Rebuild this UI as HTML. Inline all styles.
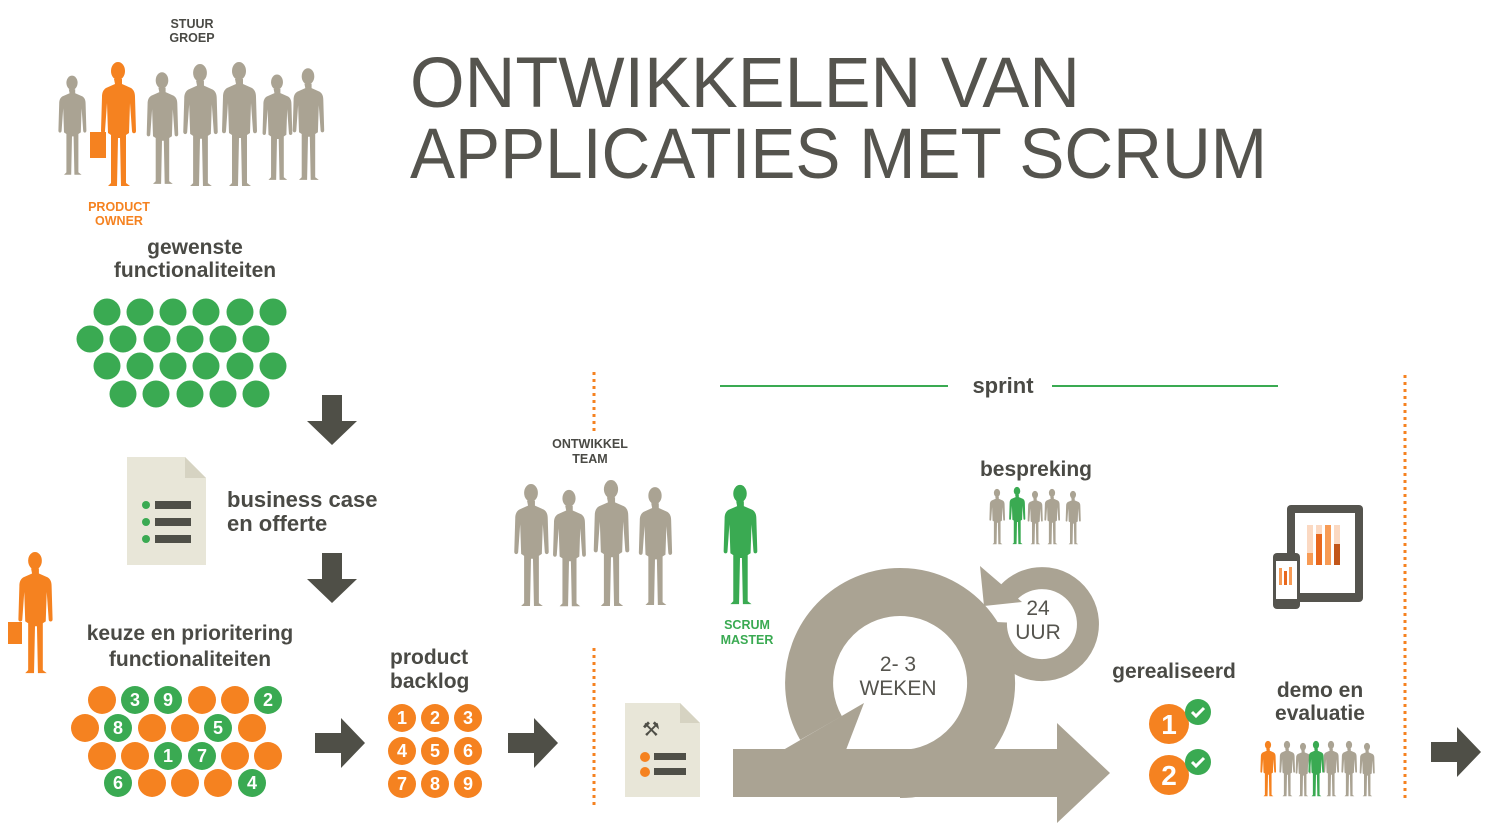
<!DOCTYPE html>
<html><head><meta charset="utf-8"><style>
html,body{margin:0;padding:0;background:#fff;}
svg{display:block;font-family:"Liberation Sans",sans-serif;}
.h{font-weight:bold;fill:#4a4a45;}
</style></head><body>
<svg width="1493" height="835" viewBox="0 0 1493 835" xmlns="http://www.w3.org/2000/svg">
<defs>
<symbol id="p" viewBox="0 0 40 130">
<ellipse cx="20" cy="11" rx="7" ry="9"/>
<path d="M16 19h8v5l9 4c3 2 4 5 4 9l1 34c0 3-4 3-4 0l-2-28-1 30-3 2 0 48 4 3h-9l-1-48h-2l-1 48h-9l3-3 0-48-3-2-1-30-2 28c0 3-4 3-4 0l1-34c0-4 1-7 4-9l9-4z"/>
</symbol>
<symbol id="a" viewBox="0 0 50 50"><path d="M15 0h20v26h15L25 50 0 26h15z"/></symbol>
<symbol id="r" viewBox="0 0 50 50"><path d="M0 15h26V0l24 25-24 25V35H0z"/></symbol>
</defs>

<text x="410" y="107" font-size="71" fill="#55544e" textLength="670" lengthAdjust="spacingAndGlyphs">ONTWIKKELEN VAN</text>
<text x="410" y="178" font-size="71" fill="#55544e" textLength="857" lengthAdjust="spacingAndGlyphs">APPLICATIES MET SCRUM</text>

<text class="h" x="192" y="28" font-size="12.5" text-anchor="middle">STUUR</text>
<text class="h" x="192" y="42" font-size="12.5" text-anchor="middle">GROEP</text>
<g fill="#aaa393">
<use href="#p" x="56" y="62" width="32" height="128"/>
<use href="#p" x="144" y="68" width="36" height="122"/>
<use href="#p" x="180" y="62" width="40" height="128"/>
<use href="#p" x="218" y="60" width="42" height="130"/>
<use href="#p" x="260" y="66" width="34" height="124"/>
<use href="#p" x="290" y="60" width="36" height="130"/>
</g>
<use href="#p" x="94" y="60" width="48" height="130" fill="#f58220"/>
<rect x="90" y="132" width="16" height="26" fill="#f58220"/>
<text x="119" y="211" font-size="12.5" font-weight="bold" fill="#f58220" text-anchor="middle">PRODUCT</text>
<text x="119" y="225" font-size="12.5" font-weight="bold" fill="#f58220" text-anchor="middle">OWNER</text>

<text class="h" x="195" y="254" font-size="21" text-anchor="middle">gewenste</text>
<text class="h" x="195" y="277" font-size="21" text-anchor="middle">functionaliteiten</text>

<g fill="#3aaa52">
<circle cx="107" cy="312" r="13.5"/><circle cx="140" cy="312" r="13.5"/><circle cx="173" cy="312" r="13.5"/><circle cx="206" cy="312" r="13.5"/><circle cx="240" cy="312" r="13.5"/><circle cx="273" cy="312" r="13.5"/>
<circle cx="90" cy="339" r="13.5"/><circle cx="123" cy="339" r="13.5"/><circle cx="157" cy="339" r="13.5"/><circle cx="190" cy="339" r="13.5"/><circle cx="223" cy="339" r="13.5"/><circle cx="256" cy="339" r="13.5"/>
<circle cx="107" cy="366" r="13.5"/><circle cx="140" cy="366" r="13.5"/><circle cx="173" cy="366" r="13.5"/><circle cx="206" cy="366" r="13.5"/><circle cx="240" cy="366" r="13.5"/><circle cx="273" cy="366" r="13.5"/>
<circle cx="123" cy="394" r="13.5"/><circle cx="156" cy="394" r="13.5"/><circle cx="190" cy="394" r="13.5"/><circle cx="223" cy="394" r="13.5"/><circle cx="256" cy="394" r="13.5"/>
</g>

<g fill="#4f4f47">
<use href="#a" x="307" y="395" width="50" height="50"/>
<use href="#a" x="307" y="553" width="50" height="50"/>
<use href="#r" x="315" y="718" width="50" height="50"/>
<use href="#r" x="508" y="718" width="50" height="50"/>
<use href="#r" x="1431" y="727" width="50" height="50"/>
</g>

<path d="M127 457h58l21 21v87h-79z" fill="#e8e6d8"/>
<path d="M185 457v21h21z" fill="#d6d3c2"/>
<g fill="#3aaa52"><circle cx="146" cy="505" r="4"/><circle cx="146" cy="522" r="4"/><circle cx="146" cy="539" r="4"/></g>
<g fill="#4f4f47"><rect x="155" y="501" width="36" height="8"/><rect x="155" y="518" width="36" height="8"/><rect x="155" y="535" width="36" height="8"/></g>
<text class="h" x="227" y="507" font-size="22">business case</text>
<text class="h" x="227" y="531" font-size="22">en offerte</text>

<use href="#p" x="12" y="550" width="46" height="127" fill="#f58220"/>
<rect x="8" y="622" width="14" height="22" fill="#f58220"/>
<text class="h" x="190" y="640" font-size="21" text-anchor="middle">keuze en prioritering</text>
<text class="h" x="190" y="666" font-size="21" text-anchor="middle">functionaliteiten</text>

<g font-size="18" font-weight="bold" fill="#fff" text-anchor="middle">
<g fill="#f58220">
<circle cx="102" cy="700" r="14"/><circle cx="202" cy="700" r="14"/><circle cx="235" cy="700" r="14"/>
<circle cx="85" cy="728" r="14"/><circle cx="152" cy="728" r="14"/><circle cx="185" cy="728" r="14"/><circle cx="252" cy="728" r="14"/>
<circle cx="102" cy="756" r="14"/><circle cx="135" cy="756" r="14"/><circle cx="235" cy="756" r="14"/><circle cx="268" cy="756" r="14"/>
<circle cx="152" cy="783" r="14"/><circle cx="185" cy="783" r="14"/><circle cx="218" cy="783" r="14"/>
</g>
<g fill="#3aaa52">
<circle cx="135" cy="700" r="14"/><circle cx="168" cy="700" r="14"/><circle cx="268" cy="700" r="14"/>
<circle cx="118" cy="728" r="14"/><circle cx="218" cy="728" r="14"/>
<circle cx="168" cy="756" r="14"/><circle cx="202" cy="756" r="14"/>
<circle cx="118" cy="783" r="14"/><circle cx="252" cy="783" r="14"/>
</g>
<text x="135" y="706">3</text><text x="168" y="706">9</text><text x="268" y="706">2</text>
<text x="118" y="734">8</text><text x="218" y="734">5</text>
<text x="168" y="762">1</text><text x="202" y="762">7</text>
<text x="118" y="789">6</text><text x="252" y="789">4</text>
</g>

<text class="h" x="390" y="664" font-size="21">product</text>
<text class="h" x="390" y="688" font-size="21">backlog</text>
<g fill="#f58220">
<circle cx="402" cy="718" r="14"/><circle cx="435" cy="718" r="14"/><circle cx="468" cy="718" r="14"/>
<circle cx="402" cy="751" r="14"/><circle cx="435" cy="751" r="14"/><circle cx="468" cy="751" r="14"/>
<circle cx="402" cy="784" r="14"/><circle cx="435" cy="784" r="14"/><circle cx="468" cy="784" r="14"/>
</g>
<g font-size="18" font-weight="bold" fill="#fff" text-anchor="middle">
<text x="402" y="724">1</text><text x="435" y="724">2</text><text x="468" y="724">3</text>
<text x="402" y="757">4</text><text x="435" y="757">5</text><text x="468" y="757">6</text>
<text x="402" y="790">7</text><text x="435" y="790">8</text><text x="468" y="790">9</text>
</g>

<g stroke="#f58220" stroke-width="3" stroke-dasharray="3 4">
<line x1="594" y1="372" x2="594" y2="432"/>
<line x1="594" y1="648" x2="594" y2="805"/>
<line x1="1405" y1="375" x2="1405" y2="802"/>
</g>
<g stroke="#3aaa52" stroke-width="2"><line x1="720" y1="386" x2="948" y2="386"/><line x1="1052" y1="386" x2="1278" y2="386"/></g>
<text class="h" x="1003" y="393" font-size="22" text-anchor="middle">sprint</text>

<text class="h" x="590" y="448" font-size="12.5" text-anchor="middle">ONTWIKKEL</text>
<text class="h" x="590" y="463" font-size="12.5" text-anchor="middle">TEAM</text>
<g fill="#aaa393">
<use href="#p" x="510" y="482" width="42" height="128"/>
<use href="#p" x="550" y="488" width="38" height="122"/>
<use href="#p" x="588" y="478" width="46" height="132"/>
<use href="#p" x="636" y="484" width="38" height="126"/>
</g>
<use href="#p" x="716" y="483" width="48" height="125" fill="#3aaa52"/>
<text x="747" y="629" font-size="12.5" font-weight="bold" fill="#3aaa52" text-anchor="middle">SCRUM</text>
<text x="747" y="644" font-size="12.5" font-weight="bold" fill="#3aaa52" text-anchor="middle">MASTER</text>

<text class="h" x="1036" y="476" font-size="21" text-anchor="middle">bespreking</text>
<g fill="#aaa393">
<use href="#p" x="988" y="488" width="18" height="58"/>
<use href="#p" x="1026" y="490" width="18" height="56"/>
<use href="#p" x="1042" y="488" width="20" height="58"/>
<use href="#p" x="1064" y="490" width="18" height="56"/>
</g>
<use href="#p" x="1006" y="486" width="22" height="60" fill="#3aaa52"/>

<path d="M625 703h55l20 20v74h-75z" fill="#e8e6d8"/>
<path d="M680 703v20h20z" fill="#d6d3c2"/>
<text x="651" y="736" font-size="20" fill="#4f4f47" text-anchor="middle">⚒</text>
<circle cx="645" cy="757" r="5" fill="#f58220"/><circle cx="645" cy="772" r="5" fill="#f58220"/>
<rect x="654" y="753" width="32" height="7" fill="#4f4f47"/><rect x="654" y="768" width="32" height="7" fill="#4f4f47"/>

<!-- scrum cycle -->
<g fill="none" stroke="#aaa393">
<path d="M996 622 A46 46 0 1 0 1009 592" stroke-width="22"/>
</g>
<path d="M980 566 L984 606 L1022 602 Z" fill="#aaa393"/>
<g fill="none" stroke="#aaa393">
<path d="M900 774 A91 91 0 1 0 821 728" stroke-width="48"/>
</g>
<g fill="#aaa393">
<path d="M778 753 L864 703 L841 763 Z"/>
<path d="M733 749H1057V723L1110 773L1057 823V797H733Z"/>
</g>
<g font-size="21" fill="#55544e" text-anchor="middle">
<text x="898" y="671">2- 3</text><text x="898" y="695">WEKEN</text>
<text x="1038" y="615">24</text><text x="1038" y="639">UUR</text>
</g>

<text class="h" x="1174" y="678" font-size="21" text-anchor="middle">gerealiseerd</text>
<circle cx="1169" cy="724" r="20" fill="#f58220"/><circle cx="1169" cy="775" r="20" fill="#f58220"/>
<text x="1169" y="734" font-size="28" font-weight="bold" fill="#fff" text-anchor="middle">1</text>
<text x="1169" y="785" font-size="28" font-weight="bold" fill="#fff" text-anchor="middle">2</text>
<circle cx="1198" cy="712" r="13" fill="#3aaa52"/><circle cx="1198" cy="762" r="13" fill="#3aaa52"/>
<g stroke="#fff" stroke-width="3" fill="none"><path d="M1192 712l4 4 8-8"/><path d="M1192 762l4 4 8-8"/></g>

<rect x="1287" y="505" width="76" height="97" rx="4" fill="#55544e"/>
<rect x="1295" y="513" width="60" height="80" fill="#fff"/>
<g fill="#fbd9c2"><rect x="1307" y="525" width="6" height="40"/><rect x="1316" y="525" width="6" height="40"/><rect x="1325" y="525" width="6" height="40"/><rect x="1334" y="525" width="6" height="40"/></g>
<rect x="1307" y="553" width="6" height="12" fill="#f79b55"/><rect x="1316" y="534" width="6" height="31" fill="#e8681e"/><rect x="1325" y="525" width="6" height="40" fill="#f79b55"/><rect x="1334" y="544" width="6" height="21" fill="#c2561a"/>
<rect x="1273" y="553" width="27" height="56" rx="4" fill="#55544e"/>
<rect x="1276" y="561" width="21" height="38" fill="#fff"/>
<rect x="1279" y="568" width="3" height="17" fill="#f79b55"/><rect x="1284" y="571" width="3" height="14" fill="#e8681e"/><rect x="1289" y="567" width="3" height="18" fill="#f79b55"/>

<text class="h" x="1320" y="697" font-size="21" text-anchor="middle">demo en</text>
<text class="h" x="1320" y="720" font-size="21" text-anchor="middle">evaluatie</text>
<use href="#p" x="1258" y="740" width="20" height="58" fill="#f58220"/>
<g fill="#aaa393">
<use href="#p" x="1278" y="740" width="18" height="58"/>
<use href="#p" x="1294" y="742" width="18" height="56"/>
<use href="#p" x="1322" y="740" width="18" height="58"/>
<use href="#p" x="1340" y="740" width="18" height="58"/>
<use href="#p" x="1358" y="742" width="18" height="56"/>
</g>
<use href="#p" x="1306" y="740" width="20" height="58" fill="#3aaa52"/>
</svg>
</body></html>
